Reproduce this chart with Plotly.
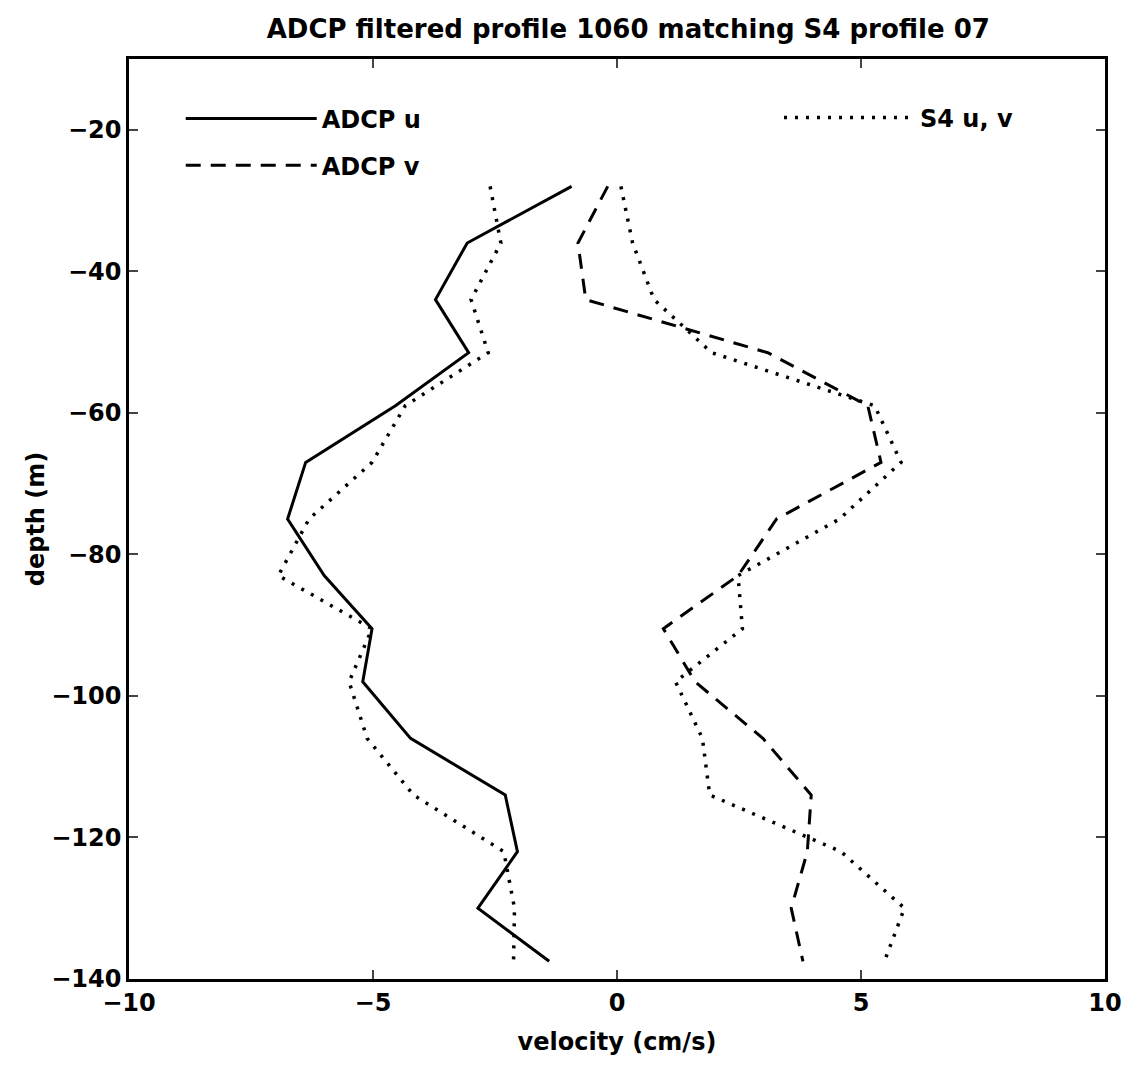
import plotly.graph_objects as go

# depth levels (m)
depth = [-28, -36, -44, -51.5, -59, -67, -75, -83, -90.5, -98, -106, -114, -122, -130, -137.5]

# velocities (cm/s)
adcp_u = [-0.93, -3.07, -3.72, -3.04, -4.54, -6.38, -6.75, -6.0, -5.02, -5.21, -4.23, -2.29, -2.04, -2.85, -1.39]
adcp_v = [-0.19, -0.80, -0.64, 3.09, 5.14, 5.41, 3.27, 2.48, 0.95, 1.6, 2.99, 3.98, 3.9, 3.57, 3.81]
s4_u = [-2.60, -2.38, -2.99, -2.64, -4.34, -5.02, -6.31, -6.94, -5.02, -5.49, -5.12, -4.17, -2.32, -2.10, -2.12]
s4_v = [0.08, 0.32, 0.76, 1.94, 5.28, 5.82, 4.56, 2.48, 2.57, 1.2, 1.75, 1.9, 4.59, 5.89, 5.48]

x_ticks = [-10, -5, 0, 5, 10]
y_ticks = [-140, -120, -100, -80, -60, -40, -20]

FONT = "DejaVu Sans"


def bold_font(size):
    return dict(family=FONT, size=size, color="black", weight="bold")


fig = go.Figure()
fig.add_trace(go.Scatter(x=adcp_u, y=depth, mode="lines", name="ADCP u",
                         line=dict(color="black", width=3), legend="legend"))
fig.add_trace(go.Scatter(x=adcp_v, y=depth, mode="lines", name="ADCP v",
                         line=dict(color="black", width=3, dash="15px,10px"), legend="legend2"))
fig.add_trace(go.Scatter(x=s4_u, y=depth, mode="lines", name="S4 u, v",
                         line=dict(color="black", width=3.5, dash="3px,8px"), legend="legend3"))
fig.add_trace(go.Scatter(x=s4_v, y=depth, mode="lines", name="S4 u, v", showlegend=False,
                         line=dict(color="black", width=3.5, dash="3px,8px"), legend="legend3"))

leg_common = dict(bgcolor="rgba(0,0,0,0)", borderwidth=0, itemwidth=131,
                  font=bold_font(24),
                  xanchor="left", yanchor="middle", itemclick=False)

fig.update_layout(
    width=1135, height=1067,
    showlegend=True,
    margin=dict(l=121, r=38, t=51, b=96),
    paper_bgcolor="white", plot_bgcolor="white",
    font=dict(family=FONT, color="black"),
    title=dict(text="ADCP filtered profile 1060 matching S4 profile 07",
               x=0.5465, xanchor="center", y=1 - 21 / 1067, yanchor="middle",
               font=bold_font(26)),
    legend=dict(x=0.053, y=0.935, **leg_common),
    legend2=dict(x=0.053, y=0.884, **leg_common),
    legend3=dict(x=0.666, y=0.936, **leg_common),
    xaxis=dict(range=[-10, 10], tickvals=x_ticks, ticks="inside", ticklen=9, tickwidth=2,
               showline=True, linecolor="black", linewidth=2.5, mirror="ticks",
               showgrid=False, zeroline=False,
               tickfont=bold_font(24),
               title=dict(text="velocity (cm/s)", font=bold_font(24), standoff=18)),
    yaxis=dict(range=[-140, -10], tickvals=y_ticks, ticks="inside", ticklen=9, tickwidth=2,
               showline=True, linecolor="black", linewidth=2.5, mirror="ticks",
               showgrid=False, zeroline=False,
               tickfont=bold_font(24),
               title=dict(text="depth (m)", font=bold_font(24), standoff=0)),
)

fig.write_html("out.html")
